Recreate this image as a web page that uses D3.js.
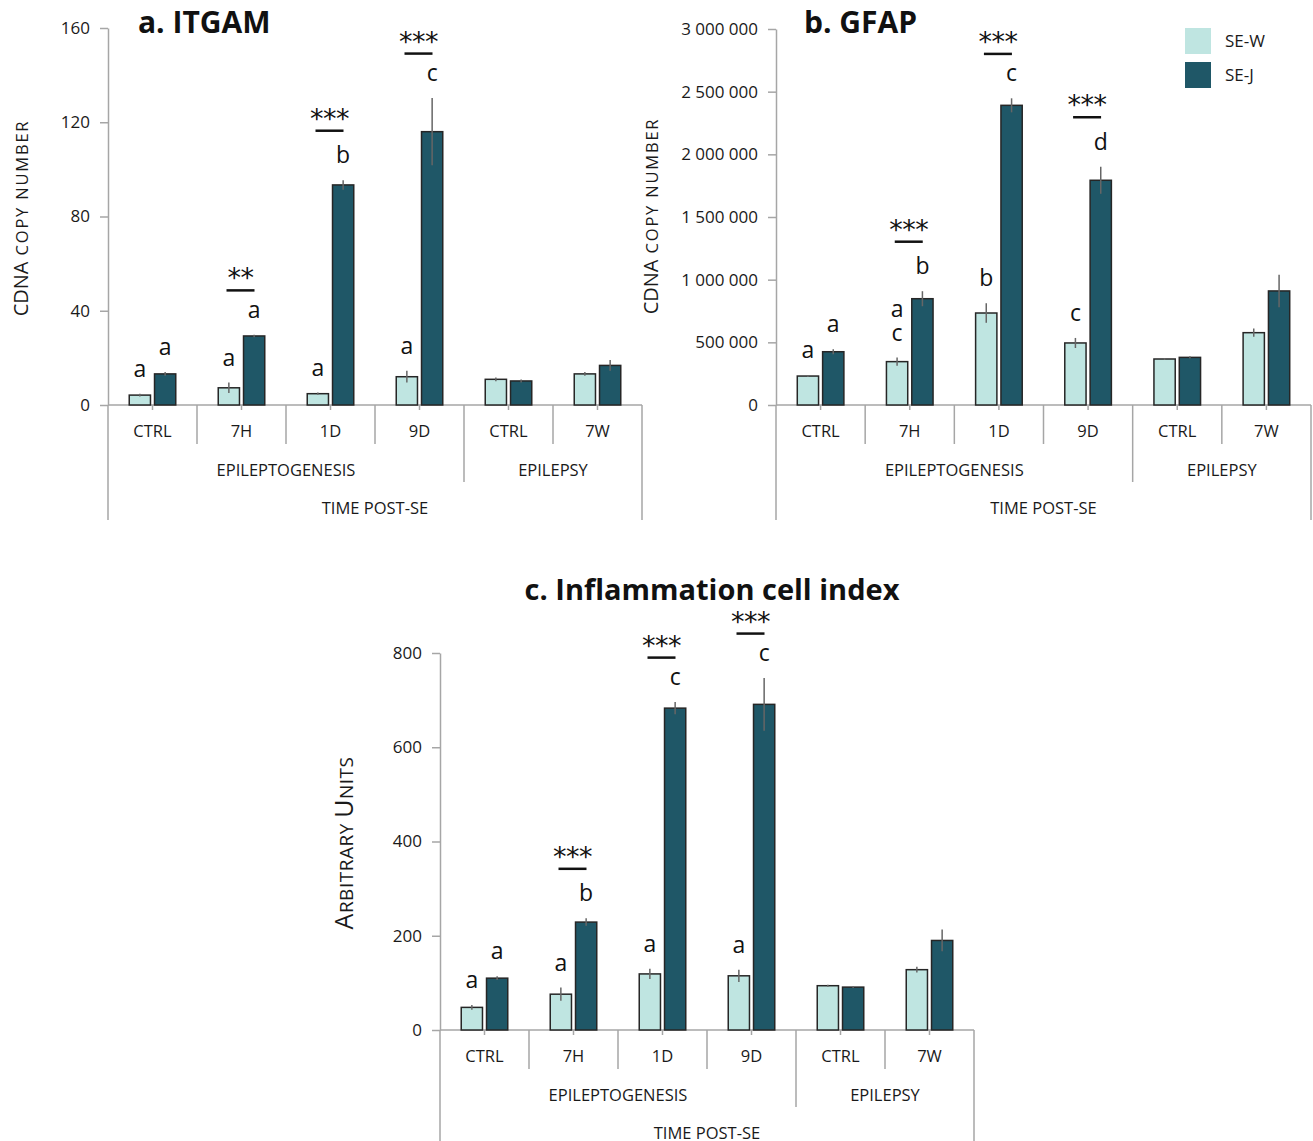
<!DOCTYPE html>
<html>
<head>
<meta charset="utf-8">
<script src="https://cdn.jsdelivr.net/npm/d3@7"></script>
<style>
  body { margin: 0; background: #fff; }
  svg { font-family: "Open Sans", sans-serif; }
</style>
</head>
<body>
<svg id="chart" width="1313" height="1141"></svg>
<script>
// categories on the x axis (time post-SE), and which phase each belongs to
const categories = ['CTRL', '7H', '1D', '9D', 'CTRL', '7W'];
const phaseOfCategory = ['EPILEPTOGENESIS', 'EPILEPTOGENESIS', 'EPILEPTOGENESIS', 'EPILEPTOGENESIS', 'EPILEPSY', 'EPILEPSY'];
const series = ['SE-W', 'SE-J'];

// a. ITGAM (cDNA copy number)
const itgamW = [4.2, 7.3, 4.8, 12.0, 10.9, 13.2];
const itgamWErr = [0.6, 2.2, 0.5, 2.5, 0.8, 0.8];
const itgamJ = [13.2, 29.3, 93.4, 116.0, 10.2, 16.8];
const itgamJErr = [0.8, 0.5, 2.0, 14.3, 0.6, 2.3];
const itgamTicks = [0, 40, 80, 120, 160];
const itgamLettersW = ['a', 'a', 'a', 'a', '', ''];
const itgamLettersJ = ['a', 'a', 'b', 'c', '', ''];
const itgamStars = ['', '**', '***', '***', '', ''];

// b. GFAP (cDNA copy number)
const gfapW = [231000, 346000, 734000, 495000, 367000, 577000];
const gfapWErr = [8000, 32000, 78000, 40000, 8000, 33000];
const gfapJ = [425000, 848000, 2391000, 1793000, 380000, 910000];
const gfapJErr = [20000, 60000, 56000, 108000, 8000, 130000];
const gfapTicks = [0, 500000, 1000000, 1500000, 2000000, 2500000, 3000000];
const gfapLettersW = ['a', 'a c', 'b', 'c', '', ''];
const gfapLettersJ = ['a', 'b', 'c', 'd', '', ''];
const gfapStars = ['', '***', '***', '***', '', ''];

// c. Inflammation cell index (arbitrary units)
const indexW = [48, 76, 119, 115, 94, 128];
const indexWErr = [5, 14, 11, 13, 2, 6];
const indexJ = [110, 229, 683, 691, 91, 190];
const indexJErr = [4, 8, 13, 56, 2, 23];
const indexTicks = [0, 200, 400, 600, 800];
const indexLettersW = ['a', 'a', 'a', 'a', '', ''];
const indexLettersJ = ['a', 'b', 'c', 'c', '', ''];
const indexStars = ['', '***', '***', '***', '', ''];

const colors = { 'SE-W': '#bfe5e1', 'SE-J': '#1f5767' };
const axisColor = '#a6a6a6';
const textColor = '#1a1a1a';

const svg = d3.select('#chart');

function spaceThousands(v) {
  return d3.format(',')(v).replace(/,/g, ' ');
}

function drawPanel(p) {
  const g = svg.append('g').attr('transform', 'translate(' + p.left + ',' + p.top + ')');

  const x0 = d3.scaleBand().domain(d3.range(categories.length)).range([0, p.width]);
  const x1 = d3.scaleBand().domain(series).range([0, x0.bandwidth()])
    .paddingInner(0.16).paddingOuter(0.84);
  const y = d3.scaleLinear().domain([0, d3.max(p.ticks)]).range([p.height, 0]);

  // y axis
  const yAxis = d3.axisLeft(y).tickValues(p.ticks).tickSize(8).tickSizeOuter(0)
    .tickPadding(10).tickFormat(p.format);
  g.append('g').call(yAxis)
    .attr('font-family', null)
    .call(a => a.select('.domain').attr('stroke', axisColor).attr('stroke-width', 1.5))
    .call(a => a.selectAll('.tick line').attr('stroke', axisColor).attr('stroke-width', 1.5))
    .call(a => a.selectAll('.tick text').attr('font-size', 17).attr('fill', textColor));

  // x axis base line + small ticks at category centers
  const xa = g.append('g').attr('transform', 'translate(0,' + p.height + ')')
    .attr('stroke', axisColor).attr('stroke-width', 1.5);
  xa.append('line').attr('x1', 0).attr('x2', p.width);
  xa.selectAll('.ctick').data(categories).enter().append('line')
    .attr('x1', (d, i) => x0(i) + x0.bandwidth() / 2)
    .attr('x2', (d, i) => x0(i) + x0.bandwidth() / 2)
    .attr('y1', 0).attr('y2', 5);

  // dividers of the multi-level category axis
  const bounds = d3.range(categories.length + 1);
  xa.selectAll('.div').data(bounds).enter().append('line')
    .attr('x1', i => i < categories.length ? x0(i) : p.width)
    .attr('x2', i => i < categories.length ? x0(i) : p.width)
    .attr('y1', 0)
    .attr('y2', i => {
      if (i === 0 || i === categories.length) return 115;
      if (phaseOfCategory[i] !== phaseOfCategory[i - 1]) return 77;
      return 39;
    });

  const lab = g.append('g').attr('transform', 'translate(0,' + p.height + ')')
    .attr('fill', textColor).attr('font-size', 16.5).attr('text-anchor', 'middle');
  lab.selectAll('.cat').data(categories).enter().append('text')
    .attr('x', (d, i) => x0(i) + x0.bandwidth() / 2)
    .attr('y', 32)
    .text(d => d);

  const phases = Array.from(new Set(phaseOfCategory));
  lab.selectAll('.phase').data(phases).enter().append('text')
    .attr('x', ph => {
      const idx = d3.range(categories.length).filter(i => phaseOfCategory[i] === ph);
      return (x0(idx[0]) + x0(idx[idx.length - 1]) + x0.bandwidth()) / 2;
    })
    .attr('y', 71)
    .text(ph => ph);
  lab.append('text').attr('x', p.width / 2).attr('y', 109).text('TIME POST-SE');

  // bars
  const rows = [];
  categories.forEach((c, i) => {
    series.forEach((s, k) => {
      rows.push({ i: i, s: s, v: p.values[k][i], e: p.errors[k][i], letter: p.letters[k][i] });
    });
  });

  const bars = g.append('g');
  bars.selectAll('rect').data(rows).enter().append('rect')
    .attr('x', d => x0(d.i) + x1(d.s))
    .attr('width', x1.bandwidth())
    .attr('y', d => y(d.v))
    .attr('height', d => p.height - y(d.v))
    .attr('fill', d => colors[d.s])
    .attr('stroke', '#262626')
    .attr('stroke-width', 1.5);

  // error bars
  bars.selectAll('.err').data(rows).enter().append('line')
    .attr('x1', d => x0(d.i) + x1(d.s) + x1.bandwidth() / 2)
    .attr('x2', d => x0(d.i) + x1(d.s) + x1.bandwidth() / 2)
    .attr('y1', d => y(d.v + d.e))
    .attr('y2', d => y(d.v - d.e))
    .attr('stroke', '#666')
    .attr('stroke-width', 1.5);

  // letters above bars
  const ann = g.append('g').attr('fill', '#111').attr('font-size', 23).attr('text-anchor', 'middle');
  const letterTop = {};
  rows.forEach(d => {
    if (!d.letter) return;
    const cx = x0(d.i) + x1(d.s) + x1.bandwidth() / 2;
    const parts = d.letter.split(' ').reverse();
    let base = y(d.v + d.e) - 17;
    parts.forEach((t, j) => {
      const b = base - j * 24;
      ann.append('text').attr('x', cx).attr('y', b).text(t);
      letterTop[d.i + d.s] = b - (/[bdfhklt]/.test(t) ? 17.5 : 12.4);
    });
  });

  // significance stars between SE-W and SE-J
  p.stars.forEach((st, i) => {
    if (!st) return;
    const cx = x0(i) + x0.bandwidth() / 2 - 1;
    const ly = letterTop[i + 'SE-J'] - 15;
    ann.append('line').attr('x1', cx - 14).attr('x2', cx + 14)
      .attr('y1', ly).attr('y2', ly).attr('stroke', '#111').attr('stroke-width', 2.5);
    ann.append('text').attr('x', cx).attr('y', ly - 3)
      .attr('font-family', 'DejaVu Sans').attr('font-size', 27).attr('letter-spacing', -0.5)
      .text(st);
  });

  // title
  svg.append('text')
    .attr('x', p.titleX).attr('y', p.titleY)
    .attr('font-size', p.titleSize).attr('font-weight', 700).attr('fill', '#111')
    .attr('text-anchor', p.titleAnchor)
    .text(p.title);

  // y-axis title with small caps
  const yt = svg.append('text')
    .attr('transform', 'translate(' + p.ylabX + ',' + p.ylabY + ') rotate(-90)')
    .attr('text-anchor', 'middle').attr('fill', textColor);
  p.ylab.forEach(part => {
    yt.append('tspan').attr('font-size', part[1]).attr('letter-spacing', part[2]).text(part[0]);
  });
}

drawPanel({
  left: 108, top: 28, width: 534, height: 377,
  ticks: itgamTicks, format: d3.format('d'),
  values: [itgamW, itgamJ], errors: [itgamWErr, itgamJErr],
  letters: [itgamLettersW, itgamLettersJ], stars: itgamStars,
  title: 'a. ITGAM', titleX: 138, titleY: 33, titleAnchor: 'start', titleSize: 30,
  ylab: [['CDNA', 20, 0], [' COPY NUMBER', 16.5, 1.8]], ylabX: 28, ylabY: 218
});

drawPanel({
  left: 776, top: 29, width: 535, height: 376,
  ticks: gfapTicks, format: spaceThousands,
  values: [gfapW, gfapJ], errors: [gfapWErr, gfapJErr],
  letters: [gfapLettersW, gfapLettersJ], stars: gfapStars,
  title: 'b. GFAP', titleX: 804, titleY: 33, titleAnchor: 'start', titleSize: 30,
  ylab: [['CDNA', 20, 0], [' COPY NUMBER', 16.5, 1.8]], ylabX: 658, ylabY: 216
});

drawPanel({
  left: 440, top: 653, width: 534, height: 377,
  ticks: indexTicks, format: d3.format('d'),
  values: [indexW, indexJ], errors: [indexWErr, indexJErr],
  letters: [indexLettersW, indexLettersJ], stars: indexStars,
  title: 'c. Inflammation cell index', titleX: 712, titleY: 600, titleAnchor: 'middle', titleSize: 29,
  ylab: [['A', 25, 0.5], ['RBITRARY ', 19, 0.5], ['U', 25, 0.5], ['NITS', 19, 0.5]], ylabX: 353, ylabY: 843
});

// legend
const legend = svg.append('g').attr('transform', 'translate(1185,28)');
series.forEach((s, k) => {
  legend.append('rect').attr('x', 0).attr('y', k * 34).attr('width', 26).attr('height', 26)
    .attr('fill', colors[s]);
  legend.append('text').attr('x', 40).attr('y', k * 34 + 19)
    .attr('font-size', 17).attr('fill', textColor).text(s);
});
</script>
</body>
</html>
